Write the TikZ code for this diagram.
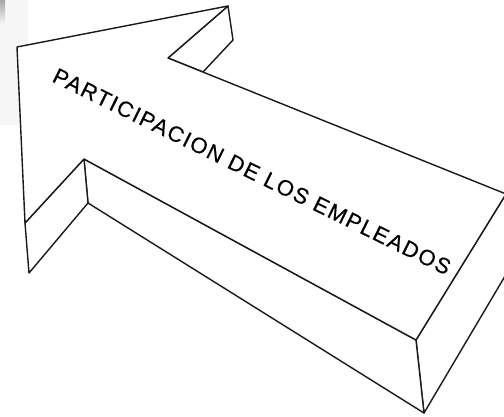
\documentclass[tikz,border=0pt]{standalone}
\usepackage{fontspec}
\newfontfamily\arrowfont[LetterSpace=7.5,FakeBold=0.4]{Liberation Sans}
\begin{document}
\begin{tikzpicture}[x=1pt,y=-1pt,
  edge/.style={line width=1.4pt, line join=round, line cap=round, fill=white, draw=black!90},
  label/.style={font=\arrowfont\fontsize{22}{22}\selectfont, inner sep=0pt, anchor=base west, rotate=-26.2}]
\useasboundingbox (0,0) rectangle (504,417);
\clip (0,0) rectangle (504,417);
% scan shadow at the top left
\fill[gray!7] (0,0) rectangle (28,125);
\shade[top color=gray!70, bottom color=gray!7] (0,0) rectangle (5,24);
% corners of the arrow's top face
\coordinate (A) at (17,47);
\coordinate (B) at (228,6);
\coordinate (N) at (168,58);
\coordinate (R) at (506,194);
\coordinate (F) at (416,340);
\coordinate (K) at (84,159);
\coordinate (L) at (25,223);
% lower corners (thickness)
\coordinate (Bd) at (233,40);
\coordinate (J) at (203,72);
\coordinate (Fd) at (424,413);
\coordinate (Rd) at (524,244);
\coordinate (Kd) at (88,203);
\coordinate (Ld) at (29,273);
% side faces
\path[edge] (B) -- (Bd) -- (J) -- (N) -- cycle;
\path[edge] (F) -- (R) -- (Rd) -- (Fd) -- cycle;
\path[edge] (K) -- (F) -- (Fd) -- (Kd) -- cycle;
\path[edge] (L) -- (K) -- (Kd) -- (Ld) -- cycle;
% top face
\path[edge] (A) -- (B) -- (N) -- (R) -- (F) -- (K) -- (L) -- cycle;
% label
\node[label] (t) at (51,81) {PARTICIPACION DE LOS EMPLEADOS};
\end{tikzpicture}
\end{document}
